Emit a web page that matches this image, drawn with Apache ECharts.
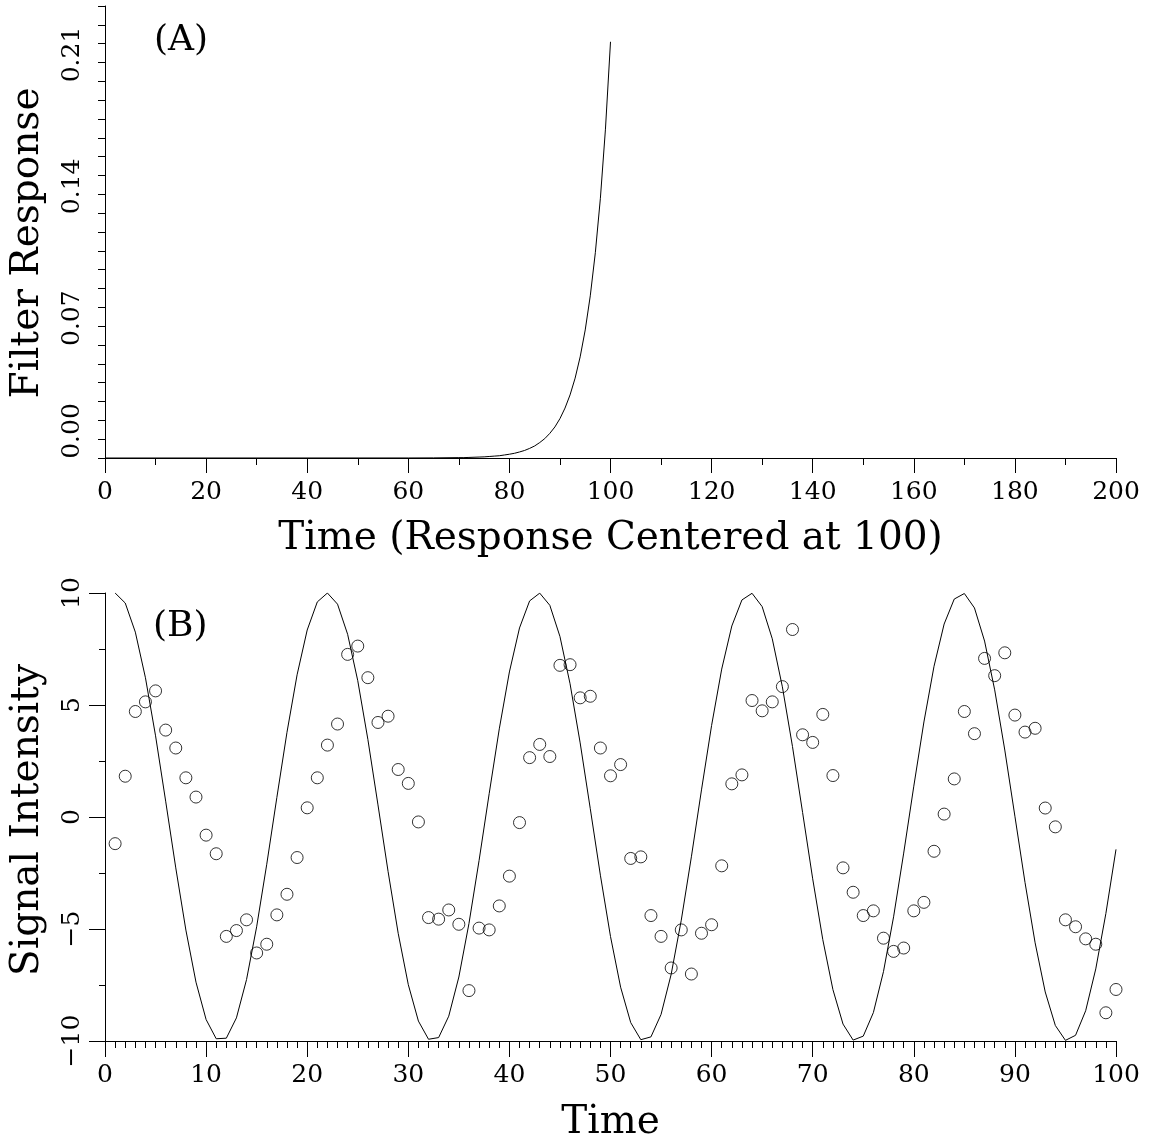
<!DOCTYPE html>
<html>
<head>
<meta charset="utf-8">
<script src="https://cdn.jsdelivr.net/npm/echarts@6/dist/echarts.min.js"></script>
<style>
html,body{margin:0;padding:0;background:#fff;}
#chart{width:1151px;height:1143px;}
</style>
</head>
<body>
<div id="chart"></div>
<script>
// Panel A: filter response (time, value)
var filterTime  = [0, 60, 65, 70, 71, 72, 73, 74, 75, 76, 77, 78, 79, 80, 81, 82, 83, 84, 85, 86, 87, 88, 89, 90, 91, 92, 93, 94, 95, 96, 97, 98, 99, 100];
var filterValue = [0, 0.00002, 0.00006, 0.0002, 0.0002, 0.0003, 0.0004, 0.0005, 0.0006, 0.0008, 0.0010, 0.0012, 0.0016, 0.0020, 0.0025, 0.0032, 0.0040, 0.0051, 0.0064, 0.0082, 0.0103, 0.0131, 0.0165, 0.0209, 0.0265, 0.0335, 0.0424, 0.0537, 0.0680, 0.0861, 0.1090, 0.1379, 0.1746, 0.2210];

// Panel B: t = 1..100
var signalCurve = [
  10.000, 9.553, 8.253, 6.216, 3.624, 0.707, -2.272, -5.048, -7.374, -9.041,
  -9.900, -9.875, -8.968, -7.259, -4.903, -2.108, 0.875, 3.780, 6.347, 8.347,
  9.602, 9.999, 9.502, 8.157, 6.084, 3.466, 0.540, -2.435, -5.193, -7.486,
  -9.111, -9.922, -9.847, -8.892, -7.143, -4.755, -1.943, 1.042, 3.935, 6.476,
  8.439, 9.647, 9.994, 9.449, 8.059, 5.949, 3.308, 0.372, -2.598, -5.336,
  -7.597, -9.179, -9.942, -9.816, -8.814, -7.024, -4.607, -1.778, 1.210, 4.089,
  6.603, 8.528, 9.690, 9.987, 9.392, 7.958, 5.813, 3.149, 0.203, -2.760,
  -5.477, -7.705, -9.245, -9.959, -9.783, -8.733, -6.903, -4.457, -1.612, 1.376,
  4.242, 6.729, 8.614, 9.730, 9.977, 9.333, 7.855, 5.676, 2.989, 0.035,
  -2.921, -5.617, -7.811, -9.308, -9.972, -9.746, -8.650, -6.781, -4.306, -1.446
];
var signalSamples = [
  -1.19, 1.82, 4.71, 5.14, 5.63, 3.88, 3.08, 1.75, 0.89, -0.81,
  -1.64, -5.33, -5.07, -4.59, -6.07, -5.68, -4.37, -3.45, -1.81, 0.41,
  1.75, 3.21, 4.15, 7.26, 7.63, 6.22, 4.22, 4.50, 2.12, 1.50,
  -0.22, -4.49, -4.56, -4.15, -4.79, -7.75, -4.96, -5.04, -3.97, -2.64,
  -0.25, 2.65, 3.24, 2.70, 6.77, 6.80, 5.32, 5.39, 3.08, 1.84,
  2.34, -1.85, -1.78, -4.40, -5.33, -6.74, -5.04, -7.01, -5.19, -4.81,
  -2.18, 1.48, 1.88, 5.20, 4.74, 5.14, 5.82, 8.37, 3.67, 3.33,
  4.58, 1.85, -2.27, -3.36, -4.40, -4.19, -5.41, -6.00, -5.85, -4.19,
  -3.81, -1.53, 0.13, 1.70, 4.71, 3.72, 7.08, 6.31, 7.33, 4.55,
  3.79, 3.96, 0.40, -0.44, -4.59, -4.90, -5.44, -5.68, -8.74, -7.70
];

var FONT = 'DejaVu Serif';
var BLACK = '#000';

var filterData = filterTime.map(function (t, i) { return [t, filterValue[i]]; });
var curveData = signalCurve.map(function (v, i) { return [i + 1, v]; });
var sampleData = signalSamples.map(function (v, i) { return [i + 1, v]; });

function axisBase() {
  return {
    type: 'value',
    axisLine: { show: true, onZero: false, lineStyle: { color: BLACK, width: 1 } },
    axisTick: { show: true, inside: false, lineStyle: { color: BLACK, width: 1 } },
    splitLine: { show: false },
    axisLabel: { color: BLACK, fontFamily: FONT, fontSize: 25 },
    nameTextStyle: { color: BLACK, fontFamily: FONT, fontSize: 39 }
  };
}

var xA = axisBase();
Object.assign(xA, {
  gridIndex: 0, min: 0, max: 200, interval: 20,
  name: 'Time (Response Centered at 100)', nameLocation: 'middle', nameGap: 61,
  minorTick: { show: true, splitNumber: 2, length: 7, lineStyle: { color: BLACK, width: 1 } }
});
xA.axisTick.length = 15;
xA.axisLabel.margin = 22;

var xB = axisBase();
Object.assign(xB, {
  gridIndex: 1, min: 0, max: 100, interval: 10,
  name: 'Time', nameLocation: 'middle', nameGap: 62,
  minorTick: { show: true, splitNumber: 10, length: 7, lineStyle: { color: BLACK, width: 1 } }
});
xB.axisTick.length = 16;
xB.axisLabel.margin = 22;

var yA = axisBase();
Object.assign(yA, {
  gridIndex: 0, min: 0, max: 0.24, interval: 0.01,
  name: 'Filter Response', nameLocation: 'middle', nameGap: 58
});
yA.nameTextStyle.padding = [0, 22, 0, 0];
yA.axisTick.length = 7;
yA.axisLabel.rotate = 90;
yA.axisLabel.margin = 20;
yA.axisLabel.padding = [0, 0, 0, 16];
yA.axisLabel.rich = {
  z: { fontFamily: FONT, fontSize: 25, color: BLACK, padding: [0, 0, 0, 38] }
};
yA.axisLabel.formatter = function (v) {
  var k = Math.round(v * 100);
  if (k === 0) return '{z|0.00}';
  if (k % 7 === 0 && k <= 21) return (k / 100).toFixed(2);
  return '';
};

var yB = axisBase();
Object.assign(yB, {
  gridIndex: 1, min: -10, max: 10, interval: 5,
  name: 'Signal Intensity', nameLocation: 'middle', nameGap: 58,
  minorTick: { show: true, splitNumber: 2, length: 6, lineStyle: { color: BLACK, width: 1 } }
});
yB.nameTextStyle.padding = [0, 6, 0, 0];
yB.axisTick.length = 16;
yB.axisLabel.rotate = 90;
yB.axisLabel.margin = 20;
yB.axisLabel.formatter = function (v) {
  return v < 0 ? '\u2212' + Math.abs(v) : String(v);
};

var option = {
  animation: false,
  backgroundColor: '#fff',
  grid: [
    { left: 105, right: 35, top: 6, height: 452 },
    { left: 105, right: 35, top: 593, height: 451 }
  ],
  xAxis: [xA, xB],
  yAxis: [yA, yB],
  graphic: [
    { type: 'text', left: 154, top: 23, style: { text: '(A)', font: '36px "DejaVu Serif"', fill: BLACK } },
    { type: 'text', left: 153, top: 609, style: { text: '(B)', font: '36px "DejaVu Serif"', fill: BLACK } }
  ],
  series: [
    {
      type: 'line', xAxisIndex: 0, yAxisIndex: 0, data: filterData,
      showSymbol: false, smooth: false,
      lineStyle: { color: BLACK, width: 1 }
    },
    {
      type: 'line', xAxisIndex: 1, yAxisIndex: 1, data: curveData,
      showSymbol: false, lineStyle: { color: BLACK, width: 1 }
    },
    {
      type: 'scatter', xAxisIndex: 1, yAxisIndex: 1, data: sampleData,
      symbol: 'circle', symbolSize: 12,
      itemStyle: { color: 'rgba(0,0,0,0)', borderColor: BLACK, borderWidth: 1 }
    }
  ]
};

var chart = echarts.init(document.getElementById('chart'), null, { renderer: 'canvas' });
chart.setOption(option);
</script>
</body>
</html>
